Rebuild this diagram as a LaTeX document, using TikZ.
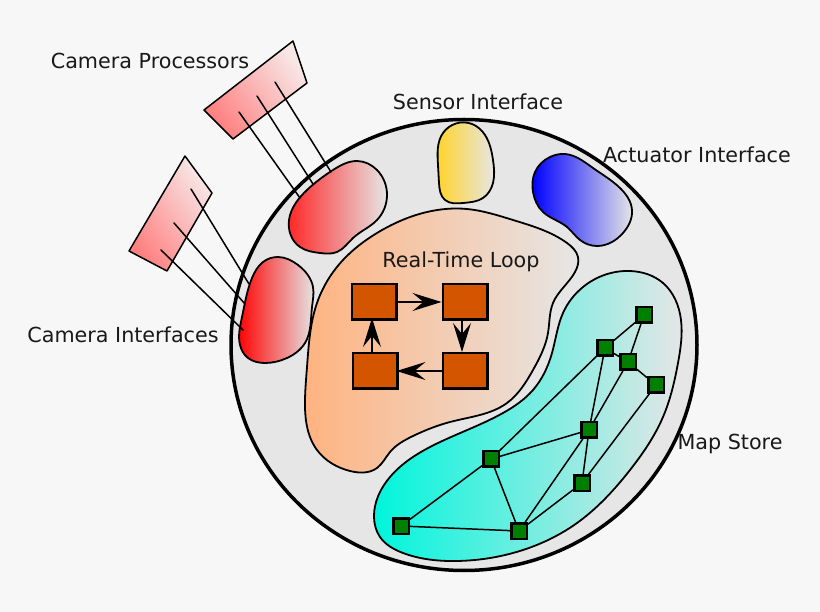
\documentclass[tikz,border=0pt]{standalone}
\usepackage{fontspec}
\setmainfont{DejaVu Sans}
\usetikzlibrary{arrows.meta,hobby}
\definecolor{paper}{HTML}{F7F7F7}
\definecolor{disc}{HTML}{E6E6E6}
\definecolor{loopfill}{HTML}{D45500}
\definecolor{mapfill}{HTML}{008000}
\tikzset{
  label/.style={font=\fontsize{20.7}{24}\selectfont,inner sep=0pt,text=black!90},
  blob/.style={draw=black,line width=1.8pt,line join=round,use Hobby shortcut,closed=true},
  cpu/.style={draw=black,line width=1.5pt,line join=round,top color=red!6!paper,bottom color=red!50,shading angle=-55},
  wire/.style={draw=black,line width=1.5pt},
  loopbox/.style={draw=black,line width=2.5pt,fill=loopfill,minimum width=44.5pt,minimum height=35.5pt,inner sep=0pt},
  mapbox/.style={draw=black,line width=2.5pt,fill=mapfill,minimum size=15.5pt,inner sep=0pt},
  looparrow/.style={draw=black,line width=1.3pt,-{Stealth[length=29pt,width=18pt,inset=11pt]}}
}
\begin{document}
\begin{tikzpicture}[x=1pt,y=-1pt,line cap=round]
\fill[paper] (0,0) rectangle (820,612);
\useasboundingbox (0,0) rectangle (820,612);
\draw[line width=3.5pt,fill=disc] (464,345) ellipse [x radius=233,y radius=225.5];
% camera processors
\draw[cpu] (204,110)--(293,41)--(307,83)--(233,139)--cycle;
\draw[cpu] (185,156)--(212,193)--(167,271)--(129,251)--cycle;
% interfaces
\draw[blob,left color=red!85,right color=disc] (289,220) .. (307,190) .. (333,170) .. (357,161) .. (377,170) .. (387,195) .. (377,220) .. (353,238) .. (337,252) .. (320,253) .. (300,247);
\draw[blob,left color=red,right color=disc] (252,278) .. (263,262) .. (278,257) .. (298,265) .. (313,287) .. (312,307) .. (305,343) .. (287,358) .. (265,363) .. (248,358) .. (240,345) .. (242,317);
\draw[blob,left color={rgb,255:red,255;green,212;blue,42},right color=disc] (438,165) .. (443,133) .. (472,124) .. (485,135) .. (493,160) .. (493,183) .. (483,198) .. (463,203) .. (445,200) .. (439,183);
\draw[blob,left color=blue,right color=disc] (535,172) .. (550,157) .. (565,154) .. (593,168) .. (620,188) .. (632,210) .. (623,233) .. (597,246) .. (580,240) .. (567,227) .. (543,212) .. (533,192);
% loop and store
\draw[blob,left color={rgb,255:red,255;green,179;blue,128},right color=disc] (305,400) .. (307,367) .. (317,303) .. (343,260) .. (377,233) .. (427,212) .. (467,209) .. (513,220) .. (567,243) .. (578,257) .. (575,272) .. (553,303) .. (548,333) .. (533,370) .. (507,403) .. (450,422) .. (413,436) .. (390,452) .. (377,468) .. (350,471) .. (317,450);
\draw[blob,left color={rgb,255:red,0;green,245;blue,220},right color=disc] (374,517) .. (390,477) .. (430,447) .. (503,413) .. (533,390) .. (552,353) .. (563,313) .. (583,287) .. (630,271) .. (663,283) .. (681,320) .. (678,363) .. (663,417) .. (630,470) .. (577,523) .. (513,553) .. (457,561) .. (403,553) .. (380,537);
\node[label] (procs) at (150,61) {Camera Processors};
\node[label] (sensor) at (478,102) {Sensor Interface};
\node[label] (actuator) at (697,155) {Actuator Interface};
\node[label] (rtl) at (461,262) {Real-Time Loop};
\node[label] (ifaces) at (123,335) {Camera Interfaces};
\node[label] (store) at (730,444) {Map Store};
\coordinate (pa) at (275,82); \coordinate (ia) at (331,172);
\coordinate (pb) at (257,96); \coordinate (ib) at (313,184);
\coordinate (pc) at (239,112); \coordinate (ic) at (300,198);
\coordinate (pd) at (191,189); \coordinate (id) at (249,284);
\coordinate (pe) at (174,223); \coordinate (ie) at (245,304);
\coordinate (pf) at (161,250); \coordinate (if) at (243,330);
\draw[wire] (pa)--(ia) (pb)--(ib) (pc)--(ic) (pd)--(id) (pe)--(ie) (pf)--(if);
\node[loopbox] (la) at (374,302) {};
\node[loopbox] (lb) at (465,302) {};
\node[loopbox] (lc) at (465,371) {};
\node[loopbox] (ld) at (375,371) {};
\draw[looparrow] ([xshift=1pt]la.east)--(lb.west);
\draw[looparrow] ([xshift=-3pt]lb.south)--([xshift=-3pt]lc.north);
\draw[looparrow] (lc.west)--([xshift=-2pt]ld.east);
\draw[looparrow] ([xshift=-3pt]ld.north)--([xshift=-2pt,yshift=3pt]la.south);
\node[mapbox] (ma) at (644,315) {};
\node[mapbox] (mb) at (605,348) {};
\node[mapbox] (mc) at (628,362) {};
\node[mapbox] (md) at (656,385) {};
\node[mapbox] (me) at (589,430) {};
\node[mapbox] (mf) at (491,459) {};
\node[mapbox] (mg) at (582,483) {};
\node[mapbox] (mh) at (519,531) {};
\node[mapbox] (mi) at (401,526) {};
\draw[wire] (ma)--(mb) (ma)--(mc) (mb)--(mc) (mc)--(md) (mb)--(mf) (mb)--(me) (mc)--(me) (md)--(mg) (me)--(mf) (me)--(mg) (me)--(mh) (mg)--(mh) (mf)--(mh) (mf)--(mi) (mi)--(mh);
\end{tikzpicture}
\end{document}
